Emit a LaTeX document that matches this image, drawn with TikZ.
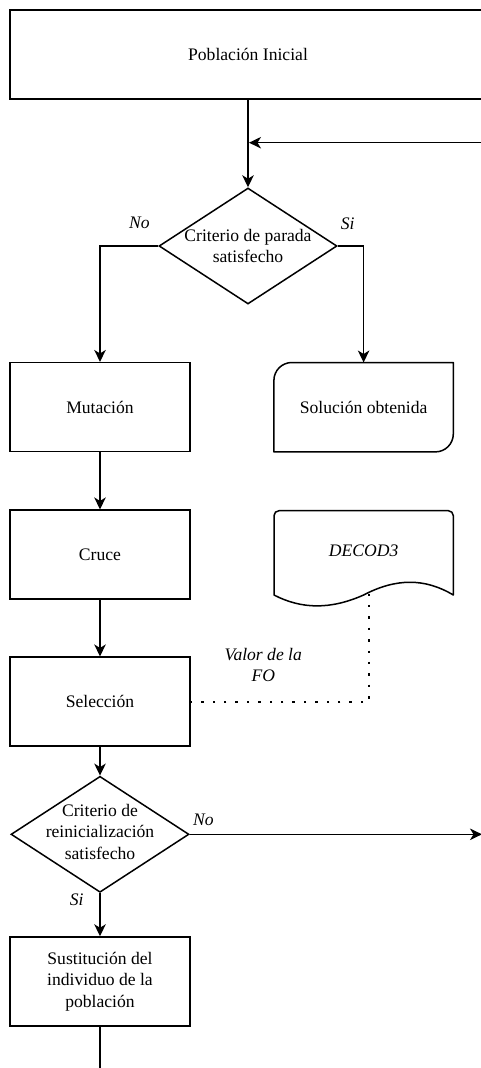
\documentclass[tikz,border=0pt]{standalone}
\usepackage{fontspec}
\setmainfont{Liberation Serif}
\newfontfamily\flowfont{Liberation Serif}
\usetikzlibrary{arrows.meta,shapes.geometric,calc}
\begin{document}
\begin{tikzpicture}[x=1pt,y=-1pt,
  every node/.style={font=\flowfont\fontsize{17.6pt}{21.5pt}\selectfont, inner sep=0pt, align=center},
  stroke/.style={line width=1.5pt, draw=black},
  box/.style={stroke, rectangle, minimum width=180pt, minimum height=89pt},
  decision/.style={stroke, diamond, minimum width=178pt, minimum height=116pt},
  outline/.style={rectangle, minimum width=179pt, minimum height=89pt},
  flow/.style={line width=1.5pt, -{Stealth[length=12pt,width=11.5pt,inset=3.5pt]}},
  plain/.style={line width=1.5pt, line join=round},
  dotline/.style={line width=2.4pt, dash pattern=on 2.4pt off 9pt},
  tag/.style={font=\flowfont\fontsize{17.6pt}{21.5pt}\selectfont\itshape}
]
\useasboundingbox (0,0) rectangle (481,1068);
\fill[white] (0,0) rectangle (481,1068);
\clip (0,0) rectangle (481,1068);

% process boxes
\node[box, minimum width=476pt] (ini) at (248,54.3) {Población Inicial};
\node[box] (mut) at (100,407.2) {Mutación};
\node[box] (cru) at (100,554.7) {Cruce};
\node[box] (sel) at (100,701.7) {Selección};
\node[box] (sus) at (100,981.5) {Sustitución del\\individuo de la\\población};

% decisions
\node[decision] (d1) at (248,246) {};
\node (d1t) at (d1.center) {Criterio de parada\\satisfecho};
\node[decision] (d2) at (100,834.3) {};
\node (d2t) at (100,831.5) {Criterio de\\reinicialización\\satisfecho};

% terminal: rounded top-left and bottom-right corners
\node[outline] (sol) at (363.6,407.2) {Solución obtenida};
\draw[plain] ([xshift=18pt]sol.north west) -- (sol.north east)
  -- ([yshift=18pt]sol.south east)
  .. controls ([yshift=8pt]sol.south east) and ([xshift=-8pt]sol.south east) .. ([xshift=-18pt]sol.south east)
  -- (sol.south west) -- ([yshift=-18pt]sol.north west)
  .. controls ([yshift=-8pt]sol.north west) and ([xshift=8pt]sol.north west) .. ([xshift=18pt]sol.north west)
  -- cycle;

% document shape
\node[outline, minimum height=80pt] (dec) at (363.6,551) {\itshape DECOD3};
\draw[plain] (274,595) -- (274,515.7)
  .. controls (274,512.9) and (276.2,510.7) .. (279,510.7)
  -- (448.3,510.7)
  .. controls (451.1,510.7) and (453.3,512.9) .. (453.3,515.7)
  -- (453.3,595)
  .. controls (425,578) and (396,578) .. (363.6,595)
  .. controls (331,609.5) and (302,609.5) .. (274,595)
  -- cycle;

% connectors
\coordinate (j1) at (249,142.7);
\coordinate (ret) at (486,142.7);
\coordinate (out) at (482,834.3);
\coordinate (bot) at (100,1072);
\coordinate (decb) at (369,593.5);

\draw[flow] (ini.south) -- (d1.north);
\draw[flow] (ret) -- (j1);
\draw[flow] (d1.west) -| (mut.north);
\draw[flow] (d1.east) -| (sol.north);
\draw[flow] (mut.south) -- (cru.north);
\draw[flow] (cru.south) -- (sel.north);
\draw[flow] (sel.south) -- (d2.north);
\draw[flow] (d2.east) -- (out);
\draw[flow] (d2.south) -- (sus.north);
\draw[plain] (sus.south) -- (bot);
\draw[dotline] (decb) |- (sel.east);

% branch labels
\node[tag] (l1) at (139.3,223.3) {No};
\node[tag] (l2) at (347.7,223.3) {Si};
\node[tag] (l3) at (203.3,820) {No};
\node[tag] (l4) at (76.7,900) {Si};
\node[tag] (l5) at (263.3,665.2) {Valor de la\\FO};
\end{tikzpicture}
\end{document}
